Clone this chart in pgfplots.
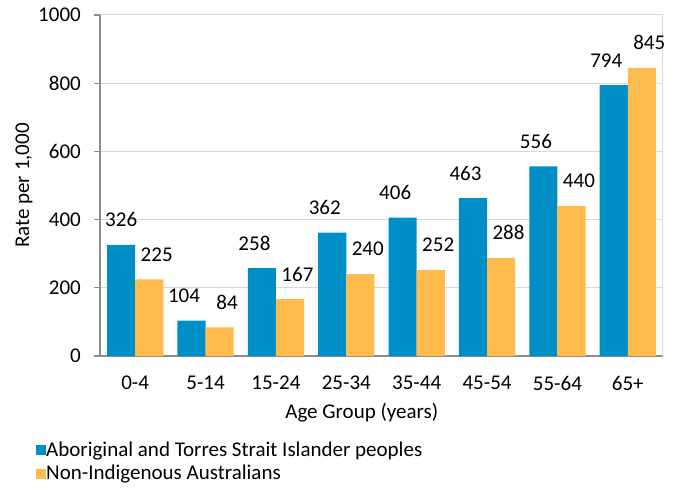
\documentclass[border=0pt]{standalone}
\usepackage{fontspec}
\setmainfont{Carlito}
\usepackage{pgfplots}
\pgfplotsset{compat=1.18}
\definecolor{cblue}{RGB}{0,142,198}
\definecolor{corange}{RGB}{255,187,77}
\definecolor{axgray}{RGB}{140,140,140}
\definecolor{grd}{RGB}{217,217,217}
\begin{document}
\fontsize{21bp}{24bp}\selectfont
\begin{tikzpicture}
\begin{axis}[
  at={(0,0)}, anchor=south west,
  scale only axis, width=563bp, height=341bp,
  xmin=-0.5, xmax=7.5, ymin=0, ymax=1000,
  axis x line*=bottom, axis y line*=left,
  axis line style={axgray, line width=1.2bp},
  xtick={0,...,7},
  xticklabels={0-4,5-14,15-24,25-34,35-44,45-54,55-64,65+},
  minor xtick={-0.5,0.5,...,7.5},
  xtick style={draw=none},
  minor x tick style={axgray, line width=1.2bp},
  minor tick length=6bp,
  ytick={0,200,...,1000},
  y tick style={axgray, line width=1.2bp},
  major tick length=6bp,
  tick align=outside,
  ymajorgrids, major grid style={grd, line width=1bp},
  /pgf/number format/assume math mode=true,
  /pgf/number format/1000 sep={},
  tick label style={font=\fontsize{21bp}{24bp}\selectfont},
  yticklabel style={xshift=-6bp},
  xticklabel style={yshift=-7bp},
  xlabel={Age Group (years)},
  xlabel style={at={(axis description cs:0.465,0)}, anchor=center, yshift=-57bp},
  ylabel={Rate per 1,000},
  ylabel style={at={(axis description cs:-0.135,0.5)}, anchor=center},
  label style={font=\fontsize{21bp}{24bp}\selectfont},
  legend style={at={(axis description cs:-0.1137,-0.249)}, anchor=north west, draw=none, fill=none,
    font=\fontsize{21bp}{24bp}\selectfont, row sep=5bp, inner sep=0pt,
    nodes={inner sep=0.5bp}},
  legend cell align=left,
  legend image code/.code={\fill[#1] (0bp,-5bp) rectangle (9.5bp,5bp);},
  every node near coord/.append style={anchor=center, yshift=25bp, font=\fontsize{21bp}{24bp}\selectfont},
  clip=false,
]
\addplot[ybar, bar width=0.4, bar shift=-0.2, fill=cblue, draw=none] coordinates {
(0,326) (1,104) (2,258) (3,362) (4,406) (5,463) (6,556) (7,794)};
\addlegendentry{Aboriginal and Torres Strait Islander peoples}
\addplot[ybar, bar width=0.4, bar shift=0.2, fill=corange, draw=none] coordinates {
(0,225) (1,84) (2,167) (3,240) (4,252) (5,288) (6,440) (7,845)};
\addlegendentry{Non-Indigenous Australians}
% data labels
\addplot[draw=none, mark=none, forget plot, nodes near coords,
  every node near coord/.append style={xshift=-14bp}] coordinates {(0,326)};
\addplot[draw=none, mark=none, forget plot, nodes near coords,
  every node near coord/.append style={xshift=-21.5bp}] coordinates {
(1,104) (2,258) (3,362) (4,406) (5,463) (6,556) (7,794)};
\addplot[draw=none, mark=none, forget plot, nodes near coords,
  every node near coord/.append style={xshift=21.5bp}] coordinates {
(0,225) (1,84) (2,167) (3,240) (4,252) (5,288) (6,440) (7,845)};
\draw[grd, line width=1bp] (rel axis cs:1,0) -- (rel axis cs:1,1);
\end{axis}
\useasboundingbox (-100bp,-134bp) rectangle (574bp,356bp);
\end{tikzpicture}
\end{document}
